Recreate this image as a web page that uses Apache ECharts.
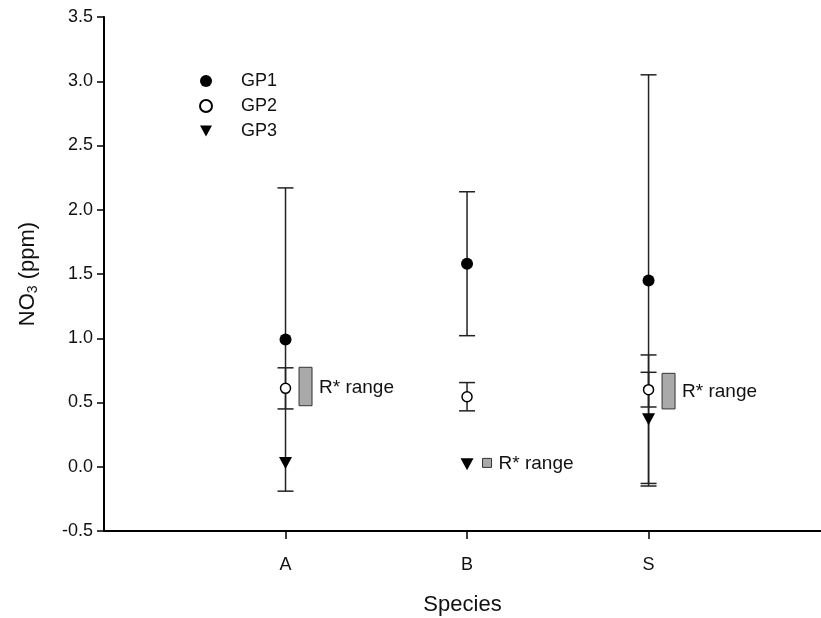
<!DOCTYPE html>
<html>
<head>
<meta charset="utf-8">
<script src="https://cdn.jsdelivr.net/npm/echarts@6/dist/echarts.min.js"></script>
<style>
html, body { margin: 0; padding: 0; background: #fff; }
#main { width: 821px; height: 618px; }
</style>
</head>
<body>
<div id="main"></div>
<script>
// species on the x axis, NO3 (ppm) means and error half-widths
var species = ['A', 'B', 'S'];
var gp1Mean = [0.99, 1.58, 1.45];
var gp1Err = [1.18, 0.56, 1.60];
var gp2Mean = [0.61, 0.545, 0.60];
var gp2Err = [0.16, 0.11, 0.135];
var gp3Mean = [0.03, 0.02, 0.37];
var gp3Err = [0, 0, 0.50];
// R* range boxes
var rLow = [0.475, -0.005, 0.45];
var rHigh = [0.774, 0.065, 0.727];
var rLabel = 'R* range';

var font = 'Liberation Sans, Arial, Helvetica, sans-serif';
var ink = '#111';

var pts = function(mean) {
    return mean.map(function(v, i) { return [i + 1, v]; });
};
var bars = function(mean, err) {
    var out = [];
    mean.forEach(function(v, i) {
        if (err[i] > 0) out.push([i + 1, v - err[i], v + err[i]]);
    });
    return out;
};

var errRender = function(params, api) {
    var x = api.value(0);
    var top = api.coord([x, api.value(2)]);
    var bot = api.coord([x, api.value(1)]);
    var hw = 8;
    var st = { stroke: '#222', lineWidth: 1.5 };
    return {
        type: 'group',
        children: [
            { type: 'line', shape: { x1: top[0], y1: top[1], x2: bot[0], y2: bot[1] }, style: st },
            { type: 'line', shape: { x1: top[0] - hw, y1: top[1], x2: top[0] + hw, y2: top[1] }, style: st },
            { type: 'line', shape: { x1: bot[0] - hw, y1: bot[1], x2: bot[0] + hw, y2: bot[1] }, style: st }
        ]
    };
};

var rangeRender = function(params, api) {
    var x = api.value(0);
    var hi = api.coord([x, api.value(2)]);
    var lo = api.coord([x, api.value(1)]);
    var h = lo[1] - hi[1];
    var w = Math.min(13, h);
    var cx = hi[0] + 20;
    var cy = (hi[1] + lo[1]) / 2;
    return {
        type: 'group',
        children: [
            { type: 'rect', shape: { x: cx - w / 2, y: hi[1], width: w, height: h },
              style: { fill: '#a9a9a9', stroke: '#333', lineWidth: 1 } },
            { type: 'text', x: cx + w / 2 + 7, y: cy + 1,
              style: { text: rLabel, fill: ink, font: '19px ' + font, verticalAlign: 'middle', align: 'left' } }
        ]
    };
};

var myChart = echarts.init(document.getElementById('main'));
var option = {
    animation: false,
    backgroundColor: '#fff',
    grid: { left: 104, top: 17, width: 717, height: 514, outerBoundsMode: 'none', containLabel: false },
    legend: {
        data: ['GP1', 'GP2', 'GP3'],
        orient: 'vertical',
        left: 199,
        top: 72,
        padding: 0,
        itemWidth: 12,
        itemHeight: 12,
        itemGap: 7,
        textStyle: { fontSize: 18, color: ink, fontFamily: font, padding: [0, 0, 0, 24] }
    },
    xAxis: {
        type: 'value',
        min: 0,
        max: 3.95,
        name: 'Species',
        nameLocation: 'middle',
        nameGap: 63,
        nameTextStyle: { fontSize: 22, color: ink, fontFamily: font },
        splitLine: { show: false },
        axisLine: { onZero: false, lineStyle: { color: '#000', width: 2 } },
        axisTick: { customValues: [1, 2, 3], length: 8, lineStyle: { color: '#000', width: 1.5 } },
        axisLabel: {
            customValues: [1, 2, 3],
            margin: 25,
            fontSize: 18,
            color: ink,
            fontFamily: font,
            formatter: function(v) { return species[Math.round(v) - 1]; }
        }
    },
    yAxis: {
        type: 'value',
        min: -0.5,
        max: 3.5,
        interval: 0.5,
        name: '{a|NO}{b|3}{a| (ppm)}',
        nameLocation: 'middle',
        nameGap: 64,
        nameTextStyle: {
            rich: {
                a: { fontSize: 22, color: ink, fontFamily: font },
                b: { fontSize: 14, color: ink, fontFamily: font, padding: [10, 0, 0, 0] }
            }
        },
        splitLine: { show: false },
        axisLine: { show: true, lineStyle: { color: '#000', width: 2 } },
        axisTick: { length: 7, lineStyle: { color: '#000', width: 1.5 } },
        axisLabel: {
            margin: 11,
            fontSize: 18,
            color: ink,
            fontFamily: font,
            formatter: function(v) { return v.toFixed(1); }
        }
    },
    series: [
        { type: 'custom', name: 'err1', renderItem: errRender, data: bars(gp1Mean, gp1Err), z: 1 },
        { type: 'custom', name: 'err2', renderItem: errRender, data: bars(gp2Mean, gp2Err), z: 1 },
        { type: 'custom', name: 'err3', renderItem: errRender, data: bars(gp3Mean, gp3Err), z: 1 },
        { type: 'custom', name: 'range', renderItem: rangeRender, data: species.map(function(s, i) { return [i + 1, rLow[i], rHigh[i]]; }), z: 1 },
        {
            type: 'scatter', name: 'GP1', data: pts(gp1Mean), symbol: 'circle', symbolSize: 12,
            itemStyle: { color: '#000', opacity: 1 }, z: 3
        },
        {
            type: 'scatter', name: 'GP2', data: pts(gp2Mean), symbol: 'circle', symbolSize: 10,
            itemStyle: { color: '#fff', borderColor: '#000', borderWidth: 1.5, opacity: 1 }, z: 3
        },
        {
            type: 'scatter', name: 'GP3', data: pts(gp3Mean), symbol: 'path://M0,0 L12,0 L6,11 Z', symbolSize: [13, 12],
            itemStyle: { color: '#000', opacity: 1 }, z: 3
        }
    ]
};
myChart.setOption(option);
</script>
</body>
</html>
